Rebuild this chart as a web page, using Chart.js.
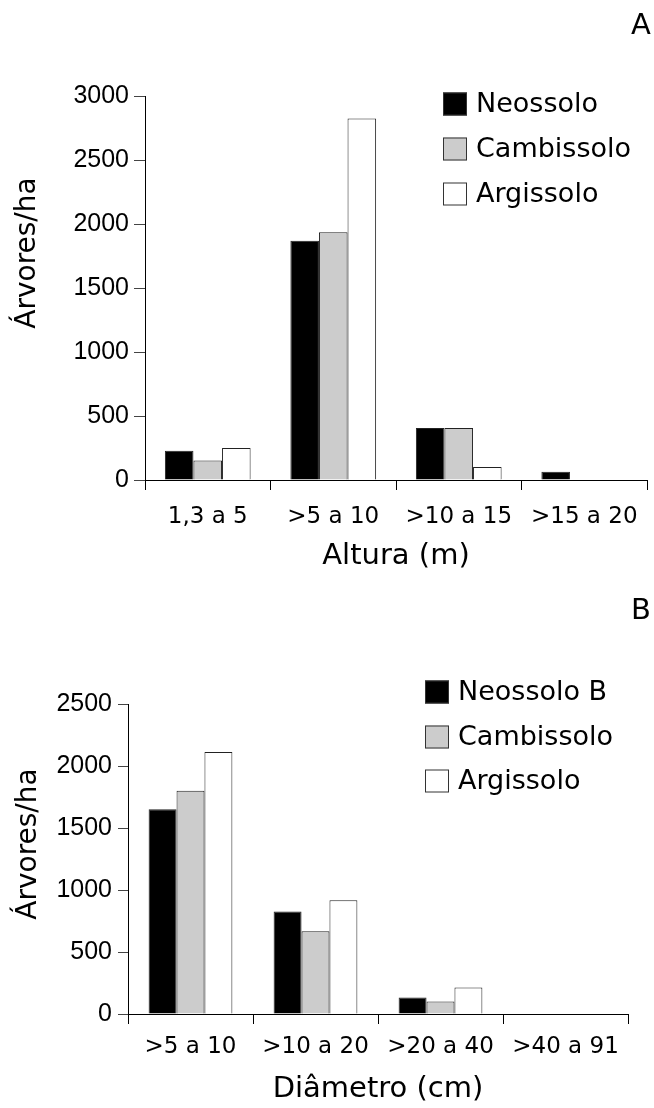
<!DOCTYPE html>
<html>
<head>
<meta charset="utf-8">
<script src="https://cdn.jsdelivr.net/npm/chart.js@4"></script>
<style>
    body { margin: 0; background: #fff; width: 654px; height: 1108px; overflow: hidden; }
    canvas { position: absolute; left: 0; }
    #chartA { top: 0; }
    #chartB { top: 590px; }
</style>
</head>
<body>
<canvas id="chartA" width="654" height="590"></canvas>
<canvas id="chartB" width="654" height="518"></canvas>
<script>
const alturaLabels = ["1,3 a 5", ">5 a 10", ">10 a 15", ">15 a 20"];
const alturaNeossolo = [228, 1870, 407, 65];
const alturaCambissolo = [152, 1935, 407, 0];
const alturaArgissolo = [250, 2825, 102, 0];

const diametroLabels = [">5 a 10", ">10 a 20", ">20 a 40", ">40 a 91"];
const diametroNeossolo = [1652, 827, 133, 0];
const diametroCambissolo = [1800, 668, 100, 0];
const diametroArgissolo = [2113, 918, 213, 0];

const wideFont = "'DejaVu Sans', sans-serif";
const numFont = "'Liberation Sans', Arial, sans-serif";

// legend, y title and panel letter drawn on top of the chart
const extras = {
    id: "extras",
    afterDraw(chart, args, opts) {
        const ctx = chart.ctx;
        ctx.save();
        ctx.fillStyle = "#000";
        ctx.textBaseline = "middle";

        ctx.font = "27px " + wideFont;
        chart.data.datasets.forEach((ds, i) => {
            const y = opts.legendY[i];
            ctx.fillStyle = ds.backgroundColor;
            ctx.fillRect(opts.legendX, y - 11.5, 24, 23);
            ctx.strokeStyle = "#333";
            ctx.lineWidth = 1;
            ctx.strokeRect(opts.legendX + 0.5, y - 11, 23, 22);
            ctx.fillStyle = "#000";
            ctx.textAlign = "left";
            ctx.fillText(ds.label, opts.legendX + 33, y + 1);
        });

        ctx.font = "29px " + wideFont;
        ctx.textAlign = "center";
        ctx.fillText(opts.letter, 641, opts.letterY);

        ctx.translate(opts.titleX, opts.titleY);
        ctx.rotate(-Math.PI / 2);
        ctx.font = "28px " + wideFont;
        ctx.fillText("Árvores/ha", 0, 0);
        ctx.restore();
    }
};

function makeChart(id, labels, neo, camb, arg, names, cfg) {
    return new Chart(document.getElementById(id), {
        type: "bar",
        data: {
            labels: labels,
            datasets: [
                { label: names[0], data: neo, backgroundColor: "#000000" },
                { label: names[1], data: camb, backgroundColor: "#cccccc" },
                { label: names[2], data: arg, backgroundColor: "#ffffff" },
            ],
        },
        options: {
            responsive: false,
            animation: false,
            devicePixelRatio: 1,
            layout: { padding: { left: 0, right: cfg.right, top: cfg.top, bottom: 0 } },
            datasets: {
                bar: {
                    borderColor: "#222",
                    borderWidth: 1,
                    barPercentage: 1,
                    categoryPercentage: cfg.catPct,
                },
            },
            plugins: {
                legend: { display: false },
                tooltip: { enabled: false },
                extras: cfg.extras,
            },
            scales: {
                x: {
                    afterFit: (s) => { s.height = cfg.xHeight; },
                    grid: { drawOnChartArea: false, drawTicks: true, tickLength: 10, color: "#000" },
                    border: { color: "#000", width: 1 },
                    ticks: { color: "#000", padding: cfg.xPad, maxRotation: 0, autoSkip: false, font: { family: wideFont, size: 23 } },
                    title: {
                        display: true,
                        text: cfg.xTitle,
                        color: "#000",
                        font: { family: wideFont, size: 29 },
                        padding: { top: 0, bottom: cfg.titlePad },
                    },
                },
                y: {
                    min: 0,
                    max: cfg.max,
                    afterFit: (s) => { s.width = cfg.yWidth; },
                    grid: { drawOnChartArea: false, drawTicks: true, tickLength: cfg.yTick, color: "#444" },
                    border: { color: "#000", width: 1 },
                    ticks: {
                        stepSize: 500,
                        color: "#000",
                        padding: cfg.yPad,
                        font: { family: numFont, size: 25 },
                        callback: (v) => String(v),
                    },
                },
            },
        },
        plugins: [extras],
    });
}

makeChart("chartA", alturaLabels, alturaNeossolo, alturaCambissolo, alturaArgissolo,
    ["Neossolo", "Cambissolo", "Argissolo"], {
        right: 7, top: 96, xHeight: 110, yWidth: 145, yTick: 11, yPad: 5, xPad: 13,
        catPct: 0.683, max: 3000, xTitle: "Altura (m)", titlePad: 16,
        extras: { legendX: 443, legendY: [104, 149, 194], letter: "A", letterY: 26, titleX: 28, titleY: 253 },
    });

makeChart("chartB", diametroLabels, diametroNeossolo, diametroCambissolo, diametroArgissolo,
    ["Neossolo B", "Cambissolo", "Argissolo"], {
        right: 26, top: 114, xHeight: 94, yWidth: 128, yTick: 10, yPad: 6, xPad: 9,
        catPct: 0.67, max: 2500, xTitle: "Diâmetro (cm)", titlePad: 1,
        extras: { legendX: 425, legendY: [102, 147, 191], letter: "B", letterY: 21, titleX: 29, titleY: 254 },
    });
</script>
</body>
</html>
